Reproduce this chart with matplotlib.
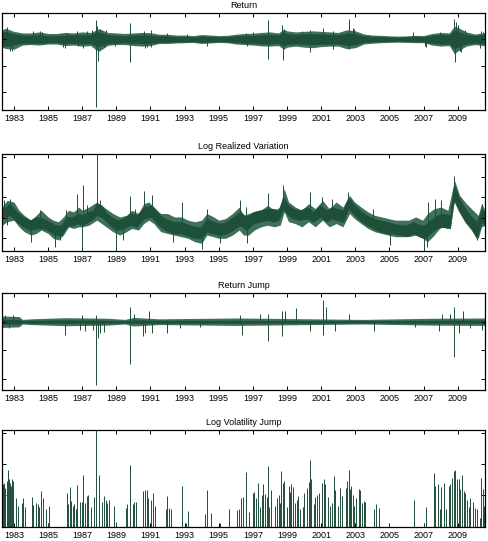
import matplotlib
matplotlib.use("Agg")
import matplotlib.pyplot as plt
import numpy as np

plt.rcParams['font.family'] = ['Liberation Sans', 'DejaVu Sans']

# ---- Return: half-yearly bands (outer reach of the noise and dense core) + single spikes
ret_years = [1982.3, 1982.5, 1983.0, 1983.5, 1984.0, 1984.5, 1985.0, 1985.5, 1986.0, 1986.5,
             1987.0, 1987.5, 1987.8, 1988.0, 1988.5, 1989.0, 1989.5, 1990.0, 1990.5, 1991.0,
             1991.5, 1992.0, 1992.5, 1993.0, 1993.5, 1994.0, 1994.5, 1995.0, 1995.5, 1996.0,
             1996.5, 1997.0, 1997.5, 1998.0, 1998.5, 1998.8, 1999.0, 1999.5, 2000.0, 2000.5,
             2001.0, 2001.5, 2002.0, 2002.5, 2003.0, 2003.5, 2004.0, 2004.5, 2005.0, 2005.5,
             2006.0, 2006.5, 2007.0, 2007.5, 2008.0, 2008.5, 2008.8, 2009.0, 2009.5, 2010.0, 2010.6]
ret_outer_high = [3.5, 4.2, 3.0, 2.4, 2.4, 2.8, 2.2, 2.2, 2.6, 2.4,
                  2.8, 2.6, 3.5, 4.0, 2.6, 2.4, 2.2, 2.4, 2.6, 2.5,
                  1.9, 1.9, 1.6, 1.6, 1.4, 1.8, 1.6, 1.4, 1.5, 1.9,
                  2.2, 2.3, 2.6, 2.8, 2.4, 3.8, 3.2, 2.8, 3.0, 3.2,
                  3.0, 2.8, 2.6, 3.6, 3.2, 2.0, 1.6, 1.5, 1.3, 1.2,
                  1.3, 1.5, 1.4, 2.2, 2.6, 2.4, 5.0, 4.5, 2.8, 2.0, 2.5]
ret_outer_low = [-3.0, -3.5, -3.8, -2.2, -2.0, -2.2, -1.8, -1.8, -2.4, -2.2,
                 -2.6, -2.4, -4.0, -4.5, -2.3, -2.0, -2.0, -2.4, -2.6, -2.4,
                 -1.6, -1.6, -1.4, -1.3, -1.2, -1.6, -1.4, -1.2, -1.3, -1.8,
                 -2.0, -2.2, -2.5, -2.6, -2.4, -3.8, -3.0, -2.6, -3.0, -3.2,
                 -2.8, -2.6, -2.6, -3.6, -3.2, -1.8, -1.5, -1.3, -1.2, -1.1,
                 -1.2, -1.3, -1.3, -2.2, -2.6, -2.4, -5.5, -4.5, -2.6, -2.0, -2.5]
ret_core_high = [2.6, 2.8, 2.0, 1.5, 1.4, 1.6, 1.3, 1.3, 1.5, 1.5,
                 1.7, 1.6, 2.5, 2.6, 1.6, 1.4, 1.3, 1.5, 1.6, 1.5,
                 1.2, 1.1, 1.0, 0.9, 0.8, 1.1, 1.0, 0.8, 0.9, 1.2,
                 1.4, 1.4, 1.6, 1.8, 1.5, 2.6, 2.0, 1.8, 1.9, 2.0,
                 1.9, 1.8, 1.6, 2.3, 2.0, 1.2, 1.0, 0.9, 0.8, 0.7,
                 0.8, 0.9, 0.9, 1.4, 1.7, 1.6, 3.3, 2.9, 1.8, 1.3, 1.6]
ret_core_low = [-2.4, -2.6, -2.0, -1.4, -1.3, -1.5, -1.2, -1.2, -1.4, -1.4,
                -1.6, -1.5, -2.5, -2.6, -1.5, -1.3, -1.2, -1.4, -1.6, -1.5,
                -1.1, -1.0, -0.9, -0.9, -0.8, -1.0, -0.9, -0.8, -0.9, -1.1,
                -1.3, -1.4, -1.6, -1.7, -1.5, -2.5, -1.9, -1.7, -1.9, -2.0,
                -1.8, -1.7, -1.6, -2.3, -2.0, -1.1, -0.9, -0.8, -0.7, -0.7,
                -0.7, -0.8, -0.8, -1.4, -1.7, -1.6, -3.5, -2.9, -1.7, -1.3, -1.6]
ret_spike_years = [1982.57, 1982.77, 1982.86, 1984.10, 1984.55, 1984.62, 1985.90, 1985.99,
                   1986.09, 1986.70, 1986.77, 1987.05, 1987.30, 1987.60, 1987.80, 1987.80,
                   1987.84, 1987.95, 1988.02, 1988.30, 1988.39, 1988.92, 1989.78, 1989.80,
                   1990.60, 1990.70, 1990.77, 1991.02, 1991.05, 1991.95, 1993.12, 1994.29,
                   1996.59, 1996.63, 1997.02, 1997.88, 1997.90, 1998.68, 1998.74, 1998.80,
                   1999.86, 2000.34, 2000.36, 2001.08, 2001.70, 2001.71, 2002.60, 2002.62,
                   2002.88, 2002.90, 2006.40, 2007.08, 2007.15, 2007.96, 2008.79, 2008.82,
                   2008.90, 2009.04, 2009.13, 2009.20, 2009.43, 2010.30, 2010.35, 2010.50]
ret_spike_vals = [4.6, -4.6, -4.5, 3.2, 3.3, 2.8, -3.0, -3.3,
                  2.2, 3.0, -2.7, -3.5, 3.1, 3.4, -25.9, 7.5,
                  5.0, -8.3, 3.8, -3.0, 3.5, -2.7, 6.2, -8.5,
                  3.2, -3.3, -3.1, 3.4, -3.0, 2.2, 1.9, -2.7,
                  2.2, -2.7, 2.8, 7.2, -7.4, 5.3, -7.7, 4.0,
                  3.1, 3.5, -4.8, 4.4, -3.6, 3.1, 7.9, -3.6,
                  4.1, 4.0, 2.6, -2.7, -2.8, 2.8, 7.8, -8.5,
                  6.5, 5.3, -4.6, -5.0, 3.5, -3.3, 3.2, 2.8]

# ---- Log Realized Variation: outer band, core band, spikes
rv_outer_years = [1982.30, 1982.60, 1983.00, 1983.30, 1983.60, 1984.00, 1984.30, 1984.60, 1985.00, 1985.30,
                  1985.60, 1985.90, 1986.20, 1986.50, 1986.80, 1987.00, 1987.40, 1987.85, 1988.00, 1988.40,
                  1988.80, 1989.20, 1989.60, 1989.90, 1990.30, 1990.60, 1990.90, 1991.20, 1991.60, 1992.00,
                  1992.40, 1992.80, 1993.20, 1993.60, 1994.00, 1994.30, 1994.70, 1995.00, 1995.40, 1995.80,
                  1996.20, 1996.45, 1996.74, 1997.08, 1997.47, 1997.86, 1998.25, 1998.60, 1998.83, 1999.09,
                  1999.48, 1999.87, 2000.26, 2000.65, 2001.08, 2001.47, 2001.88, 2002.27, 2002.66, 2002.95,
                  2003.34, 2003.74, 2004.13, 2004.54, 2004.93, 2005.34, 2005.73, 2006.14, 2006.53, 2006.94,
                  2007.23, 2007.62, 2008.01, 2008.42, 2008.81, 2009.11, 2009.50, 2009.89, 2010.20, 2010.39, 2010.60]
rv_outer_high = [1.52, 1.85, 1.77, 1.36, 1.11, 0.87, 1.11, 1.36, 1.03, 0.87,
                 0.79, 1.03, 1.36, 1.28, 1.52, 1.36, 1.52, 1.77, 1.69, 1.44,
                 1.20, 1.03, 1.11, 1.36, 1.20, 1.69, 1.77, 1.52, 1.20, 1.20,
                 1.03, 1.03, 0.87, 0.79, 0.87, 1.20, 1.03, 0.87, 0.95, 1.20,
                 1.52, 1.11, 1.20, 1.28, 1.36, 1.61, 1.36, 1.52, 2.43, 1.77,
                 1.52, 1.36, 1.69, 1.44, 1.85, 1.44, 1.77, 1.52, 2.10, 1.77,
                 1.52, 1.28, 1.11, 1.03, 0.95, 0.87, 0.87, 0.87, 1.03, 0.87,
                 1.20, 1.44, 1.52, 1.36, 2.84, 2.10, 1.69, 1.36, 1.11, 1.69, 1.36]
rv_outer_low = [0.62, 0.79, 0.87, 0.54, 0.30, 0.13, 0.21, 0.38, 0.21, -0.03,
                -0.11, 0.13, 0.54, 0.46, 0.54, 0.54, 0.62, 0.87, 0.79, 0.54,
                0.30, 0.13, 0.30, 0.46, 0.38, 0.70, 0.87, 0.70, 0.30, 0.21,
                0.13, 0.05, -0.03, -0.20, -0.28, 0.13, 0.05, -0.03, -0.03, 0.13,
                0.38, 0.13, 0.13, 0.38, 0.54, 0.62, 0.54, 0.62, 1.28, 0.79,
                0.70, 0.54, 0.79, 0.54, 0.87, 0.54, 0.70, 0.54, 1.20, 0.95,
                0.70, 0.46, 0.30, 0.21, 0.13, 0.05, 0.05, 0.05, 0.13, -0.03,
                -0.20, 0.13, 0.54, 0.46, 1.85, 1.36, 0.87, 0.38, -0.03, 0.54, 0.62]
rv_years = [1982.30, 1982.38, 1982.77, 1983.16, 1983.55, 1983.94, 1984.33, 1984.72, 1985.11, 1985.40,
            1985.79, 1986.09, 1986.48, 1986.77, 1987.02, 1987.36, 1987.65, 1987.84, 1988.14, 1988.43,
            1988.72, 1989.02, 1989.41, 1989.80, 1990.19, 1990.62, 1991.07, 1991.46, 1991.85, 1992.34,
            1992.82, 1993.31, 1993.70, 1993.99, 1994.29, 1994.68, 1995.07, 1995.46, 1995.85, 1996.24,
            1996.63, 1997.02, 1997.41, 1997.80, 1998.20, 1998.49, 1998.78, 1999.07, 1999.36, 1999.76,
            2000.15, 2000.54, 2000.93, 2001.32, 2001.61, 2001.91, 2002.30, 2002.59, 2002.88, 2003.27,
            2003.66, 2004.05, 2004.45, 2004.84, 2005.23, 2005.62, 2006.01, 2006.40, 2006.79, 2007.08,
            2007.38, 2007.77, 2008.16, 2008.55, 2008.78, 2009.04, 2009.43, 2009.82, 2010.11, 2010.40, 2010.60]
rv_high = [1.30, 1.44, 1.69, 1.28, 1.03, 0.87, 1.03, 0.95, 0.79, 0.62,
           0.62, 1.03, 1.03, 1.20, 1.11, 1.28, 1.36, 1.69, 1.61, 1.20,
           1.03, 0.87, 0.95, 1.20, 1.11, 1.52, 1.61, 1.20, 0.95, 0.79,
           0.79, 0.62, 0.54, 0.54, 0.95, 0.79, 0.70, 0.79, 1.03, 1.28,
           1.03, 1.28, 1.36, 1.44, 1.44, 1.36, 2.02, 1.61, 1.44, 1.36,
           1.52, 1.28, 1.61, 1.36, 1.52, 1.44, 1.36, 2.02, 1.69, 1.36,
           1.11, 0.95, 0.87, 0.79, 0.70, 0.62, 0.62, 0.79, 0.62, 0.62,
           0.87, 1.11, 1.20, 1.11, 2.67, 2.02, 1.44, 1.03, 0.79, 1.44, 1.20]
rv_low = [0.80, 1.03, 1.11, 0.79, 0.54, 0.38, 0.46, 0.46, 0.30, 0.13,
          0.13, 0.54, 0.62, 0.70, 0.62, 0.79, 0.95, 1.11, 1.03, 0.79,
          0.54, 0.38, 0.46, 0.62, 0.54, 0.95, 1.03, 0.62, 0.38, 0.21,
          0.21, 0.05, -0.03, -0.03, 0.30, 0.21, 0.13, 0.21, 0.38, 0.62,
          0.38, 0.70, 0.79, 0.87, 0.79, 0.87, 1.44, 1.11, 0.95, 0.87,
          0.95, 0.79, 1.03, 0.79, 0.95, 0.87, 0.79, 1.44, 1.20, 0.87,
          0.62, 0.46, 0.30, 0.21, 0.21, 0.13, 0.08, 0.21, 0.05, -0.03,
          0.21, 0.46, 0.54, 0.46, 1.85, 1.36, 0.79, 0.38, -0.03, 0.79, 0.62]
rv_spike_years = [1982.41, 1982.57, 1982.77, 1984.00, 1984.52, 1985.40, 1985.70, 1986.03,
                  1986.71, 1987.00, 1987.06, 1987.30, 1987.84, 1988.04, 1988.98, 1989.41,
                  1989.80, 1990.09, 1990.62, 1991.07, 1992.34, 1992.82, 1993.99, 1994.29,
                  1995.07, 1996.24, 1996.59, 1996.63, 1997.90, 1998.78, 2000.34, 2001.03,
                  2001.65, 2002.59, 2004.05, 2005.03, 2007.02, 2007.18, 2007.28, 2007.67,
                  2008.00, 2008.78, 2010.11, 2010.40]
rv_spike_vals = [1.85, 0.62, 1.93, -0.20, 1.36, -0.44, -0.11, 1.36,
                 2.18, -0.61, 2.59, 1.61, 4.30, 1.85, -0.61, -0.11,
                 2.05, 1.44, 2.31, 2.10, -0.20, 1.77, -0.57, 1.44,
                 -0.28, 1.85, 1.52, -0.28, 2.21, 2.59, 2.26, 2.02,
                 1.93, 2.26, 1.44, -0.36, -0.61, -0.44, 1.77, 1.93,
                 1.85, 3.08, -0.11, 1.69]

# ---- Return Jump: thin bands + spikes
rj_years = [1982.3, 1983.3, 1983.5, 1984.0, 1986.0, 1988.5, 1989.5, 1990.0, 1991.5, 1996.0,
            2003.5, 2007.5, 2010.6]
rj_outer = [0.20, 0.18, 0.08, 0.10, 0.14, 0.12, 0.08, 0.15, 0.10, 0.13,
            0.08, 0.12, 0.13]
rj_core = [0.08, 0.07, 0.03, 0.04, 0.05, 0.04, 0.03, 0.05, 0.04, 0.04,
           0.03, 0.04, 0.05]
rj_spike_years = [1982.45, 1982.70, 1982.95, 1985.99, 1986.87, 1986.97, 1987.16, 1987.65,
                  1987.80, 1987.80, 1987.94, 1988.04, 1988.29, 1989.80, 1989.80, 1990.05,
                  1990.54, 1990.68, 1990.93, 1991.07, 1991.95, 1992.73, 1993.90, 1996.24,
                  1996.34, 1997.43, 1997.88, 1997.88, 1998.70, 1998.70, 1998.89, 1999.54,
                  2000.36, 2001.08, 2001.08, 2001.29, 2001.82, 2002.60, 2004.07, 2006.51,
                  2007.88, 2008.07, 2008.56, 2008.79, 2008.79, 2009.05, 2009.30, 2009.73, 2010.41]
rj_spike_vals = [0.25, -0.22, 0.22, -0.45, -0.28, 0.22, -0.31, -0.28,
                 -2.19, 0.22, -0.56, -0.39, -0.37, -1.46, 0.51, 0.28,
                 -0.51, -0.39, 0.39, -0.39, -0.39, -0.22, -0.20, 0.22,
                 -0.45, 0.28, -0.67, 0.28, -0.51, 0.39, 0.39, 0.48,
                 -0.34, 0.76, -0.45, 0.51, -0.34, 0.28, -0.31, -0.17,
                 -0.31, 0.28, 0.28, -1.24, 0.51, -0.39, 0.39, -0.22, -0.28]

# ---- Log Volatility Jump
vj_years = [1982.34, 1982.41, 1982.49, 1982.57, 1982.63, 1982.69, 1982.77, 1982.84, 1982.90, 1982.96,
            1983.10, 1983.22, 1983.45, 1983.55, 1983.64, 1984.07, 1984.13, 1984.27, 1984.39, 1984.48,
            1984.56, 1984.68, 1984.86, 1984.97, 1985.07, 1986.09, 1986.18, 1986.28, 1986.32, 1986.44,
            1986.54, 1986.63, 1986.71, 1986.87, 1986.97, 1987.06, 1987.16, 1987.26, 1987.36, 1987.49,
            1987.69, 1987.80, 1988.00, 1988.14, 1988.27, 1988.39, 1988.47, 1988.59, 1988.88, 1988.98,
            1989.56, 1989.64, 1989.80, 1989.82, 1989.95, 1990.05, 1990.15, 1990.58, 1990.68, 1990.77,
            1990.87, 1991.03, 1991.16, 1991.26, 1991.89, 1991.95, 1992.10, 1992.18, 1992.82, 1993.08,
            1993.18, 1994.19, 1994.29, 1994.52, 1995.07, 1995.62, 1996.09, 1996.20, 1996.28, 1996.40,
            1996.61, 1996.80, 1997.00, 1997.09, 1997.19, 1997.29, 1997.39, 1997.52, 1997.62, 1997.72,
            1997.82, 1997.88, 1997.97, 1998.07, 1998.31, 1998.40, 1998.50, 1998.60, 1998.66, 1998.74,
            1998.83, 1998.99, 1999.09, 1999.18, 1999.24, 1999.34, 1999.48, 1999.58, 1999.67, 1999.77,
            1999.93, 2000.02, 2000.16, 2000.26, 2000.32, 2000.41, 2000.55, 2000.65, 2000.75, 2000.90,
            2001.04, 2001.14, 2001.24, 2001.39, 2001.49, 2001.63, 2001.76, 2001.82, 2001.98, 2002.11,
            2002.21, 2002.47, 2002.54, 2002.60, 2002.66, 2002.74, 2002.86, 2002.93, 2003.05, 2003.19,
            2003.29, 2003.38, 2003.48, 2003.58, 2004.07, 2004.22, 2004.36, 2005.00, 2006.41, 2007.00,
            2007.15, 2007.58, 2007.68, 2007.84, 2007.93, 2008.03, 2008.17, 2008.32, 2008.46, 2008.56,
            2008.66, 2008.75, 2008.85, 2008.95, 2009.05, 2009.15, 2009.24, 2009.34, 2009.44, 2009.54,
            2009.63, 2009.73, 2009.89, 2010.02, 2010.12, 2010.28, 2010.36, 2010.47, 2010.55]
vj_vals = [1.35, 1.40, 1.24, 1.45, 1.82, 1.51, 1.40, 1.29, 1.53, 1.45,
           0.93, 0.66, 0.77, 0.93, 0.64, 0.95, 0.69, 0.77, 0.74, 0.64,
           1.14, 0.93, 0.58, 0.14, 0.66, 1.08, 0.72, 1.27, 0.82, 0.66,
           0.72, 0.56, 1.32, 0.79, 0.79, 1.66, 0.77, 0.98, 1.00, 0.64,
           0.96, 3.20, 1.66, 0.79, 0.98, 0.87, 0.77, 0.85, 0.66, 0.16,
           0.61, 0.72, 1.96, 1.40, 0.72, 0.79, 0.80, 1.14, 1.16, 1.17,
           0.93, 0.87, 1.08, 0.66, 0.56, 0.98, 0.61, 0.58, 1.29, 0.14,
           0.51, 0.40, 1.19, 0.45, 0.14, 0.56, 0.54, 0.56, 0.93, 0.95,
           1.74, 0.47, 1.08, 1.11, 0.93, 1.40, 0.64, 1.00, 1.35, 1.06,
           0.96, 1.93, 0.64, 1.19, 0.68, 0.93, 1.03, 0.77, 1.77, 1.40,
           1.45, 0.63, 1.29, 1.11, 1.35, 1.27, 0.77, 0.85, 0.98, 0.58,
           0.64, 1.08, 1.24, 1.42, 2.14, 1.51, 0.72, 0.96, 1.03, 1.08,
           1.40, 1.53, 1.35, 0.96, 0.66, 0.77, 1.63, 1.17, 0.66, 1.24,
           0.98, 1.24, 1.45, 1.82, 1.21, 1.29, 1.03, 0.68, 0.93, 1.21,
           1.17, 0.77, 0.82, 0.79, 0.58, 0.72, 0.61, 0.14, 0.85, 0.14,
           0.63, 1.72, 1.29, 1.35, 0.56, 1.27, 1.40, 0.56, 1.29, 1.35,
           1.56, 1.77, 1.82, 1.51, 1.51, 1.21, 1.66, 1.14, 1.08, 0.87,
           0.64, 0.93, 0.79, 0.61, 0.56, 0.29, 1.56, 1.21, 0.66]

green = '#1d4f39'
fringe = '#3f705a'
year_ticks = list(range(1983, 2011, 2))
xlim = (1982.30, 2010.60)

fig = plt.figure(figsize=(4.89, 5.41), dpi=100)
W = 0.988
H = 0.1793
axes = [fig.add_axes([0.004, b, W, H]) for b in [0.7967, 0.5360, 0.2791, 0.0259]]


def style(ax, title, yticks, ylim):
    ax.set_xlim(*xlim)
    ax.set_ylim(*ylim)
    ax.set_xticks(year_ticks)
    ax.set_xticklabels([str(y) for y in year_ticks])
    ax.set_yticks(yticks)
    ax.set_yticklabels([])
    ax.tick_params(direction='in', length=3, width=0.7, top=True, right=True,
                   labelsize=6.5, pad=3, colors='black')
    for s in ax.spines.values():
        s.set_linewidth(0.9)
    ax.set_title(title, fontsize=6.5, pad=3.5)


ax = axes[0]
ax.fill_between(ret_years, ret_outer_low, ret_outer_high, color=fringe, lw=0)
ax.fill_between(ret_years, ret_core_low, ret_core_high, color=green, lw=0.4)
ax.vlines(ret_spike_years, 0, ret_spike_vals, color=green, lw=0.7)
style(ax, 'Return', [-20, -10, 0, 10], (-26.9, 9.3))

ax = axes[1]
ax.fill_between(rv_outer_years, rv_outer_low, rv_outer_high, color=fringe, lw=0)
ax.fill_between(rv_years, rv_low, rv_high, color=green, lw=0.4)
rv_mid = np.interp(rv_spike_years, rv_years, (np.array(rv_low) + np.array(rv_high)) / 2)
ax.vlines(rv_spike_years, rv_mid, rv_spike_vals, color=green, lw=0.7)
style(ax, 'Log Realized Variation', [0, 1, 2, 3, 4], (-0.66, 4.15))

ax = axes[2]
ax.fill_between(rj_years, -np.array(rj_outer), rj_outer, color=fringe, lw=0)
ax.fill_between(rj_years, -np.array(rj_core), rj_core, color=green, lw=0.4)
ax.vlines(rj_spike_years, 0, rj_spike_vals, color=green, lw=0.7)
style(ax, 'Return Jump', [-2, -1, 0, 1], (-2.38, 0.92))

ax = axes[3]
ax.vlines(vj_years, 0, vj_vals, color=green, lw=0.7)
style(ax, 'Log Volatility Jump', [0, 1, 2, 3], (0, 3.08))

fig.savefig('out.png', dpi=100)
